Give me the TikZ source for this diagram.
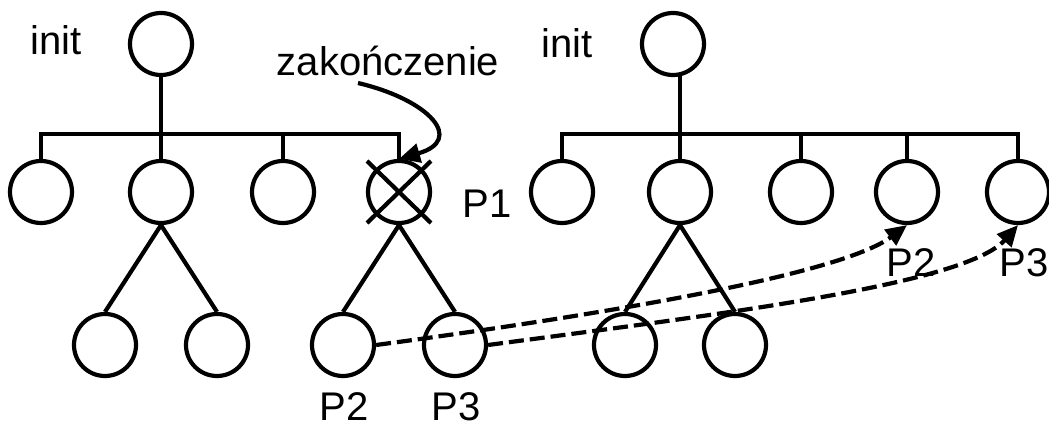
\documentclass[tikz,border=0pt]{standalone}
\usepackage{fontspec}
\setmainfont{Liberation Sans}
\usetikzlibrary{arrows.meta}
\begin{document}
\begin{tikzpicture}[x=1pt,y=-1pt,
  proc/.style={draw,circle,minimum size=62pt,inner sep=0pt,line width=4.2pt},
  lbl/.style={anchor=base,inner sep=0pt,font=\fontsize{40}{48}\selectfont},
  edge/.style={line width=4.2pt},
  tipped/.style={-{Triangle[length=21pt,width=19pt]}},
  migr/.style={line width=4.2pt,dash pattern=on 15pt off 6pt,tipped}]
\useasboundingbox (0,0) rectangle (1049,428);
% left tree
\node[proc] (L) at (161,44) {};
\node[proc] (L1) at (41,192) {};
\node[proc] (L2) at (161,192) {};
\node[proc] (L3) at (283,192) {};
\node[proc] (L4) at (399,192) {};
\node[proc] (L21) at (105,345) {};
\node[proc] (L22) at (217,345) {};
\node[proc] (L41) at (343,345) {};
\node[proc] (L42) at (455,345) {};
\coordinate (bus) at (0,134);
\draw[edge] (L.south) -- (L.south |- bus);
\draw[edge] (L1.north) |- (L4.north |- bus) -- (L4.north);
\draw[edge] (L2.north) -- (L2.north |- bus);
\draw[edge] (L3.north) -- (L3.north |- bus);
\draw[edge] (L2.south) -- (L21.north);
\draw[edge] (L2.south) -- (L22.north);
\draw[edge] (L4.south) -- (L41.north);
\draw[edge] (L4.south) -- (L42.north);
\draw[edge] ([shift={(-32,-31)}]L4.center) -- ([shift={(32,31)}]L4.center);
\draw[edge] ([shift={(32,-31)}]L4.center) -- ([shift={(-32,31)}]L4.center);
% right tree
\node[proc] (R) at (673,44) {};
\node[proc] (R1) at (562,192) {};
\node[proc] (R2) at (680,192) {};
\node[proc] (R3) at (801,192) {};
\node[proc] (R4) at (907,192) {};
\node[proc] (R5) at (1018,192) {};
\node[proc] (R21) at (625,345) {};
\node[proc] (R22) at (735,345) {};
\path (R.south) ++(7,-2) coordinate (Rst);
\draw[edge] (Rst) -- (Rst |- bus);
\draw[edge] (R1.north) |- (R5.north |- bus) -- (R5.north);
\draw[edge] (R2.north) -- (R2.north |- bus);
\draw[edge] (R3.north) -- (R3.north |- bus);
\draw[edge] (R4.north) -- (R4.north |- bus);
\draw[edge] (R2.south) -- (R21.north);
\draw[edge] (R2.south) -- (R22.north);
% labels
\node[lbl] (initL) at (56,55) {init};
\node[lbl] (initR) at (567,57) {init};
\node[lbl] (zak) at (388,75) {zakończenie};
\node[lbl] (p1) at (487,217) {P1};
\node[lbl] (p2a) at (344,420) {P2};
\node[lbl] (p3a) at (456,420) {P3};
\node[lbl] (p2b) at (911,276) {P2};
\node[lbl] (p3b) at (1024,276) {P3};
% arrows
\coordinate (zs) at (358,83);
\draw[edge,tipped] (zs) .. controls (430,100) and (465,140) .. (L4.north);
\draw[migr] (L41.east) .. controls (600,315) and (840,275) .. (R4.south);
\draw[migr] (L42.east) .. controls (713,315) and (965,285) .. (R5.south);
\end{tikzpicture}
\end{document}
